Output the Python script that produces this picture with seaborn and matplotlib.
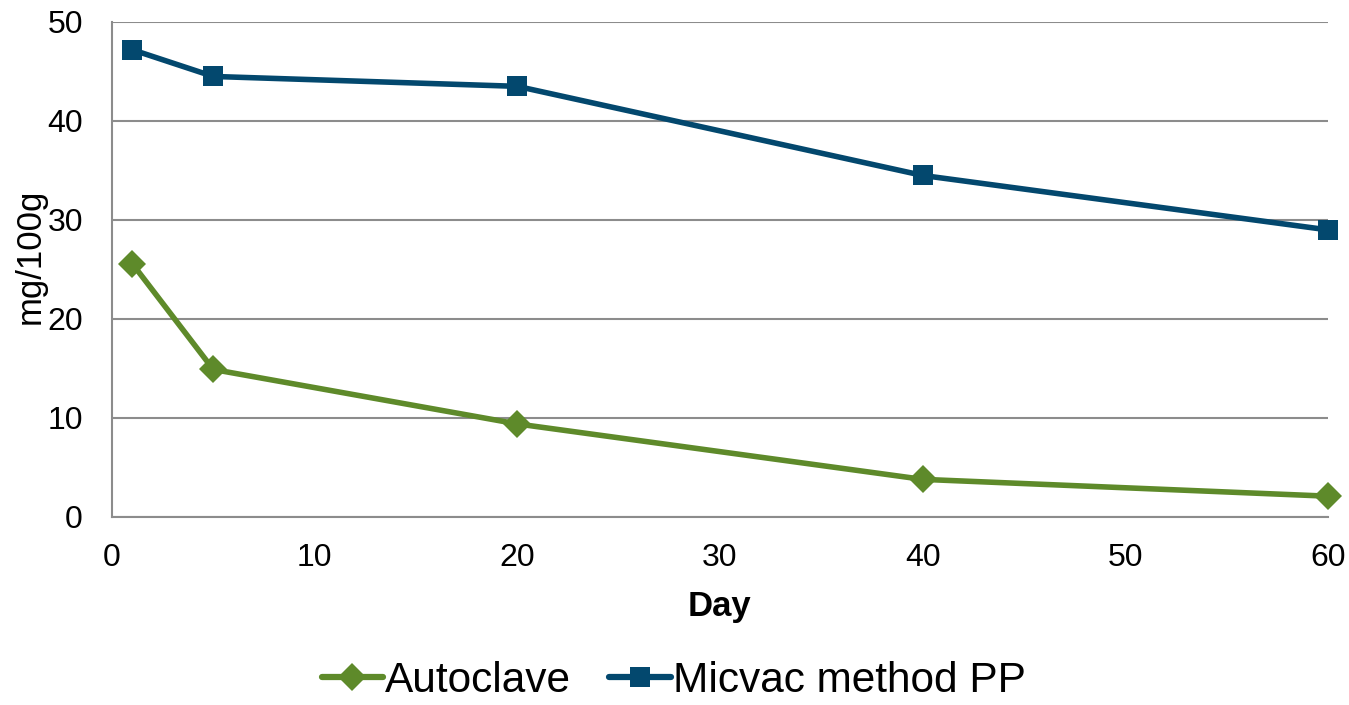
import matplotlib
matplotlib.use("Agg")
import matplotlib.pyplot as plt
import seaborn as sns
import pandas as pd

days = [1, 5, 20, 40, 60]
autoclave = [25.6, 14.9, 9.4, 3.8, 2.1]
micvac = [47.2, 44.5, 43.5, 34.5, 29.0]
series_names = ["Autoclave", "Micvac method PP"]
x_ticks = [0, 10, 20, 30, 40, 50, 60]
y_ticks = [0, 10, 20, 30, 40, 50]

df = pd.DataFrame({
    "Day": days * 2,
    "value": autoclave + micvac,
    "series": [series_names[0]] * len(days) + [series_names[1]] * len(days),
})

sns.set_theme(style="white")
plt.rcParams['font.family'] = ['Liberation Sans', 'DejaVu Sans']
plt.rcParams['text.color'] = 'black'

fig = plt.figure(figsize=(13.49, 7.05), dpi=100)
ax = fig.add_axes([0.083, 0.2667, 0.9014, 0.7021])

palette = {"Autoclave": "#5e8a2a", "Micvac method PP": "#03486e"}
markers = {"Autoclave": "D", "Micvac method PP": "s"}
sizes_m = {"Autoclave": 14, "Micvac method PP": 14.5}

sns.lineplot(data=df, x="Day", y="value", hue="series", style="series",
             palette=palette, markers=markers, dashes=False, linewidth=4.0,
             markersize=13, markeredgewidth=0, ax=ax, legend=True)

for line in ax.get_lines():
    line.set_clip_on(False)
for line, name in zip(ax.get_lines()[:2], series_names):
    line.set_markersize(sizes_m[name])

ax.set_xlim(0, 60)
ax.set_ylim(0, 50)
ax.set_xticks(x_ticks)
ax.set_yticks(y_ticks)
ax.tick_params(axis="both", labelsize=23, length=0, colors="black")
ax.tick_params(axis="y", pad=21)
ax.tick_params(axis="x", pad=19)
ax.yaxis.grid(True, color="#8c8c8c", linewidth=1.5)
ax.xaxis.grid(False)
for s in ["top", "right"]:
    ax.spines[s].set_visible(False)
for s in ["left", "bottom"]:
    ax.spines[s].set_color("#8c8c8c")
    ax.spines[s].set_linewidth(1.5)

ax.set_xlabel("Day", fontsize=25, fontweight="bold", color="black", labelpad=12)
ax.set_ylabel("mg/100g", fontsize=25, color="black")
ax.yaxis.set_label_coords(-0.054, 0.527)

handles, labels = ax.get_legend_handles_labels()
for h, name in zip(handles, labels):
    if name in sizes_m:
        h.set_markersize(sizes_m[name])
        h.set_linewidth(4.5)
ax.legend(handles, labels, loc="center", bbox_to_anchor=(0.462, -0.332),
          ncol=2, frameon=False, fontsize=30.5, handlelength=1.45,
          handletextpad=0.05, columnspacing=0.9)

fig.savefig("out.png", dpi=100)
